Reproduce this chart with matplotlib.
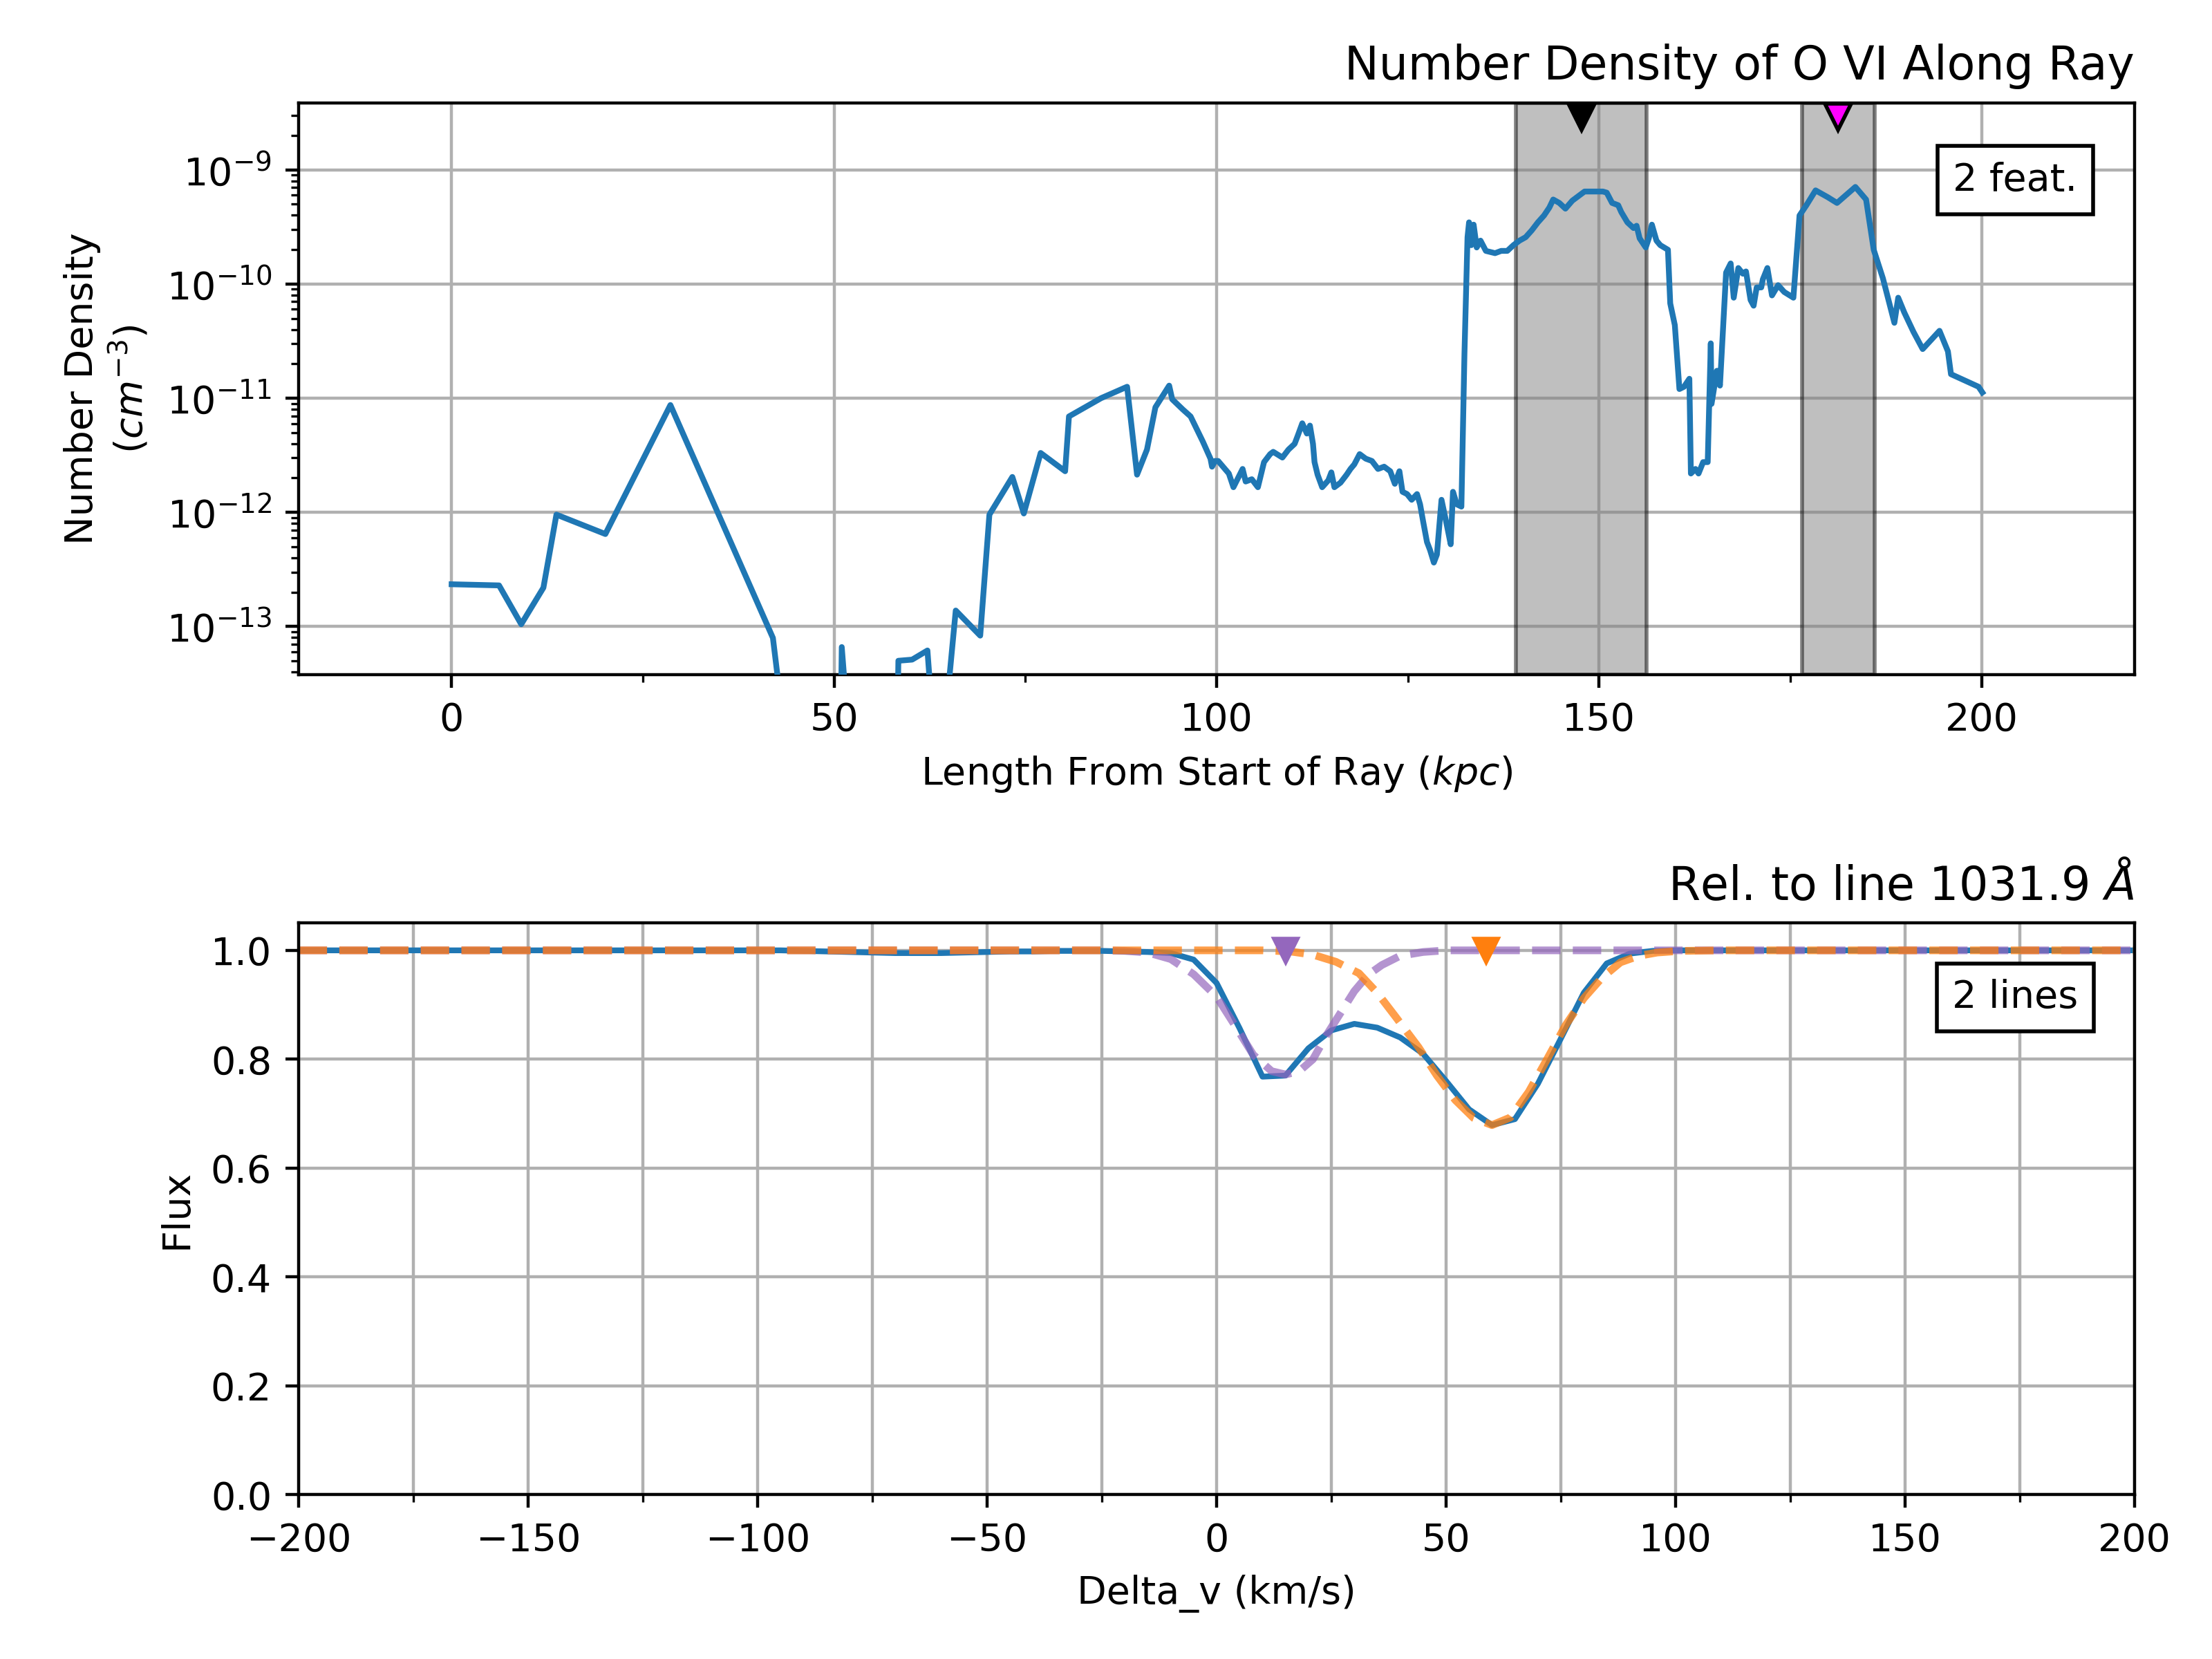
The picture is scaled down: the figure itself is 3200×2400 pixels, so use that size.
import numpy as np
import matplotlib
matplotlib.use("Agg")
import matplotlib.pyplot as plt
from matplotlib.ticker import MultipleLocator

# --- top panel: O VI number density along the ray (values read as log10) ---
ray_length = [0, 6.2, 9.1, 12.0, 13.7, 20.1, 28.6, 42.0, 44.0, 50.8, 51.0, 52.2,
              58.2, 58.4, 60.2, 62.2, 63.3, 64.0, 65.9, 69.1, 70.3, 73.3, 74.8,
              77.0, 80.2, 80.7, 84.9, 88.3, 89.6, 90.9, 92.0, 93.8, 94.2, 95.6,
              96.6, 98.2, 99.2, 99.4, 99.8, 100.2, 101.6, 102.2, 103.4, 103.8,
              104.6, 105.4, 106.2, 107.0, 107.4, 108.6, 109.4, 110.2, 110.6, 111.2,
              111.8, 112.2, 112.6, 112.8, 113.2, 113.8, 114.6, 115.0, 115.4, 116.2,
              117.0, 117.5, 118.0, 118.7, 119.5, 120.3, 121.1, 121.9, 122.7, 123.3,
              123.9, 124.3, 124.9, 125.5, 126.2, 126.6, 127.0, 127.5, 127.9, 128.4,
              128.8, 129.4, 130.0, 130.6, 130.9, 131.4, 132.0, 132.4, 132.8, 133.0,
              133.3, 133.6, 134.0, 134.5, 135.2, 136.4, 137.2, 138.0, 138.8, 139.6,
              140.4, 141.2, 142.0, 142.8, 143.5, 144.0, 144.8, 145.6, 146.5, 147.5,
              148.1, 149.3, 150.5, 151.0, 151.7, 152.5, 152.9, 153.7, 154.5, 154.9,
              155.3, 156.1, 156.5, 156.9, 157.5, 158.0, 159.0, 159.3, 159.9, 160.5,
              161.1, 161.8, 162.0, 162.6, 163.0, 163.6, 164.2, 164.6, 164.7, 165.4,
              165.8, 166.6, 167.2, 167.6, 168.2, 168.8, 169.2, 169.8, 170.2, 170.6,
              171.2, 171.4, 172.0, 172.6, 173.4, 174.2, 175.4, 176.2, 177.1, 178.3,
              179.9, 181.1, 183.5, 184.9, 185.9, 187.1, 188.6, 189.1, 189.9, 191.1,
              192.3, 194.5, 195.6, 196.0, 199.6, 200.1]
log_density = [-12.63, -12.64, -12.98, -12.66, -12.02, -12.19, -11.06, -13.10, -14.2, -14.2,
               -13.18, -14.2, -14.2, -13.30, -13.29, -13.21, -14.2, -14.2, -12.86, -13.08,
               -12.02, -11.69, -12.01, -11.48, -11.64, -11.16, -11.00, -10.90, -11.67,
               -11.45, -11.08, -10.89, -11.01, -11.10, -11.16, -11.38, -11.53, -11.60,
               -11.55, -11.55, -11.66, -11.78, -11.62, -11.73, -11.71, -11.78, -11.56,
               -11.49, -11.47, -11.52, -11.45, -11.40, -11.33, -11.22, -11.31, -11.24,
               -11.40, -11.56, -11.67, -11.78, -11.72, -11.65, -11.78, -11.74, -11.67,
               -11.62, -11.58, -11.49, -11.53, -11.55, -11.62, -11.60, -11.64, -11.75,
               -11.64, -11.82, -11.84, -11.89, -11.84, -11.93, -12.08, -12.26, -12.33,
               -12.44, -12.37, -11.89, -12.08, -12.28, -11.82, -11.93, -11.95, -10.61,
               -9.59, -9.46, -9.66, -9.48, -9.68, -9.62, -9.71, -9.73, -9.71, -9.71,
               -9.66, -9.62, -9.59, -9.53, -9.46, -9.40, -9.33, -9.26, -9.29, -9.34,
               -9.27, -9.22, -9.19, -9.19, -9.19, -9.20, -9.29, -9.31, -9.37, -9.46,
               -9.51, -9.49, -9.60, -9.68, -9.60, -9.48, -9.62, -9.66, -9.70, -10.17,
               -10.36, -10.92, -10.90, -10.83, -11.66, -11.62, -11.66, -11.56, -11.56,
               -10.52, -11.05, -10.76, -10.89, -9.90, -9.82, -10.12, -9.86, -9.91, -9.89,
               -10.14, -10.19, -10.03, -10.03, -9.96, -9.86, -10.10, -10.01, -10.07,
               -10.12, -9.40, -9.31, -9.18, -9.24, -9.29, -9.15, -9.26, -9.70, -9.95,
               -10.34, -10.12, -10.25, -10.42, -10.57, -10.41, -10.59, -10.79, -10.90,
               -10.95]

feature_bounds = [(139.1, 156.2), (176.5, 186.0)]
feature_centers = [147.7, 181.2]
feature_colors = ["black", "magenta"]

# --- bottom panel: flux relative to 1031.9 A ---
vel = [-200, -95, -90, -85, -80, -75, -70, -65, -60, -55, -50, -45, -40, -35, -30,
       -25, -20, -15, -10, -5, 0, 5, 10, 15, 20, 25, 30, 35, 40, 45, 50, 55, 60,
       65, 70, 75, 80, 85, 90, 95, 100, 200]
flux = [1.0, 1.0, 0.999, 0.998, 0.997, 0.996, 0.995, 0.995, 0.995, 0.996, 0.997,
        0.998, 0.998, 0.999, 0.999, 0.999, 0.998, 0.997, 0.995, 0.983, 0.940, 0.857,
        0.768, 0.770, 0.820, 0.853, 0.865, 0.858, 0.840, 0.810, 0.760, 0.708, 0.679,
        0.690, 0.755, 0.838, 0.922, 0.976, 0.994, 0.999, 1.0, 1.0]

vel_line1 = [-200, -25, -20, -15, -10, -5, 0, 4, 8, 12, 15, 18, 21, 24, 27, 30, 33,
             36, 40, 45, 50, 200]
flux_line1 = [1.0, 1.0, 0.999, 0.996, 0.984, 0.956, 0.915, 0.862, 0.808, 0.778,
              0.772, 0.778, 0.800, 0.845, 0.885, 0.925, 0.955, 0.973, 0.990, 0.997,
              1.0, 1.0]
vel_line2 = [-200, 10, 16, 21, 26, 31, 35, 39, 44, 48, 52, 56, 60, 64, 68, 72, 76,
             80, 84, 88, 92, 96, 101, 110, 200]
flux_line2 = [1.0, 1.0, 0.998, 0.992, 0.979, 0.958, 0.922, 0.878, 0.822, 0.770,
              0.725, 0.692, 0.679, 0.693, 0.740, 0.800, 0.862, 0.912, 0.950, 0.978,
              0.990, 0.996, 0.999, 1.0, 1.0]
line_centers = [15.0, 58.8]
line_colors = ["tab:purple", "tab:orange"]

fig, (ax1, ax2) = plt.subplots(2, 1, figsize=(8, 6), dpi=400)
fig.subplots_adjust(left=0.135, right=0.965, top=0.938, bottom=0.099, hspace=0.435)

# top
density = 10 ** np.array(log_density)
ax1.plot(ray_length, density, color="tab:blue", zorder=3)
for (lo, hi) in feature_bounds:
    ax1.axvspan(lo, hi, facecolor="gray", edgecolor="black", alpha=0.5, lw=1.0, zorder=2)
for xc, c in zip(feature_centers, feature_colors):
    ax1.plot(xc, 2.9e-9, "v", color=c, markeredgecolor="black", markersize=7, zorder=4)
ax1.set_yscale("log")
ax1.set_xlim(-20, 220)
ax1.set_ylim(3.8e-14, 3.86e-9)
ax1.xaxis.set_major_locator(MultipleLocator(50))
ax1.xaxis.set_minor_locator(MultipleLocator(25))
ax1.grid(True, which="major")
ax1.set_title("Number Density of O VI Along Ray", loc="right")
ax1.set_xlabel("Length From Start of Ray ($kpc$)")
ax1.set_ylabel("Number Density\n$(cm^{-3})$")
ax1.text(0.935, 0.865, "2 feat.", transform=ax1.transAxes, ha="center", va="center",
         bbox=dict(facecolor="white", edgecolor="black"), zorder=5)

# bottom
ax2.plot(vel, flux, color="tab:blue")
ax2.plot(vel_line1, flux_line1, "--", color="tab:purple", alpha=0.7, lw=2)
ax2.plot(vel_line2, flux_line2, "--", color="tab:orange", alpha=0.75, lw=2)
for vc, c in zip(line_centers, line_colors):
    ax2.plot(vc, 1.0, "v", color=c)
ax2.set_xlim(-200, 200)
ax2.set_ylim(0, 1.05)
ax2.xaxis.set_major_locator(MultipleLocator(50))
ax2.xaxis.set_minor_locator(MultipleLocator(25))
ax2.grid(True, which="major")
ax2.grid(True, which="minor", axis="x")
ax2.set_title(r"Rel. to line 1031.9 $\AA$", loc="right")
ax2.set_xlabel("Delta_v (km/s)")
ax2.set_ylabel("Flux")
ax2.text(0.935, 0.87, "2 lines", transform=ax2.transAxes, ha="center", va="center",
         bbox=dict(facecolor="white", edgecolor="black"), zorder=5)

fig.savefig("out.png", dpi=400)
